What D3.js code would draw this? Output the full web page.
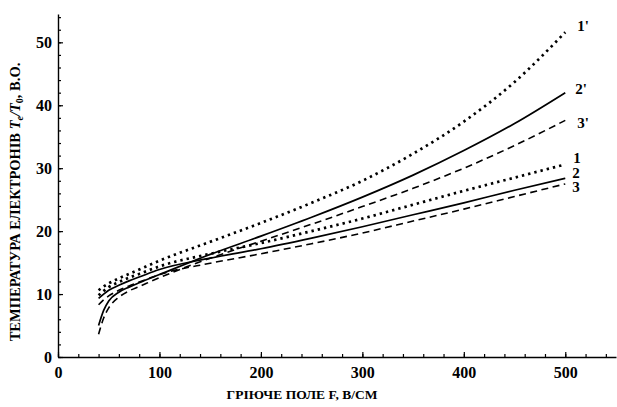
<!DOCTYPE html>
<html>
<head>
<meta charset="utf-8">
<script src="https://cdn.jsdelivr.net/npm/d3@7"></script>
<style>
  body { margin: 0; background: #fff; }
  svg { display: block; }
  text { font-family: "Liberation Serif", "DejaVu Serif", serif; }
</style>
</head>
<body>
<div id="chart"></div>
<script>
// field values, V/cm
var field = [40, 45, 50, 60, 70, 80, 100, 150, 200, 250, 300, 350, 400, 450, 500];

// electron temperature Te/T0 for each curve
var curve1p = [10.6, 11.2, 11.7, 12.5, 13.2, 13.9, 15.3, 18.3, 21.3, 24.5, 28.0, 32.3, 37.4, 43.7, 51.6];
var curve2p = [5.0, 7.4, 8.9, 10.3, 11.1, 11.8, 13.1, 16.3, 19.2, 22.2, 25.4, 28.9, 32.8, 37.1, 42.0];
var curve3p = [3.6, 6.2, 7.8, 9.5, 10.5, 11.2, 12.6, 15.7, 18.4, 21.1, 23.9, 26.8, 30.0, 33.6, 37.6];
var curve1 = [9.8, 10.5, 11.1, 11.9, 12.6, 13.2, 14.4, 16.4, 18.1, 20.0, 22.0, 24.2, 26.4, 28.5, 30.6];
var curve2 = [9.3, 10.0, 10.6, 11.4, 12.1, 12.7, 13.9, 15.7, 17.2, 18.9, 20.7, 22.6, 24.5, 26.5, 28.4];
var curve3 = [8.3, 9.1, 9.7, 10.6, 11.3, 11.9, 13.1, 14.9, 16.4, 18.0, 19.7, 21.6, 23.5, 25.5, 27.5];

var curveNames = ["1'", "2'", "3'", "1", "2", "3"];
var curveKinds = ["dot", "solid", "dash", "dot", "solid", "dash"];

var xMajor = [0, 100, 200, 300, 400, 500];
var yMajor = [0, 10, 20, 30, 40, 50];

draw();

function draw() {
  var width = 617, height = 407;
  var margin = {top: 14, right: 1, bottom: 50, left: 58};

  var svg = d3.select("#chart").append("svg")
      .attr("width", width)
      .attr("height", height);

  var x = d3.scaleLinear().domain([0, 550]).range([margin.left, width - margin.right]);
  var y = d3.scaleLinear().domain([0, 54.5]).range([height - margin.bottom, margin.top]);

  // minor ticks first, then major ticks with labels
  svg.append("g")
      .attr("transform", "translate(0," + y(0) + ")")
      .call(d3.axisBottom(x).tickValues(d3.range(0, 551, 20)).tickSize(-3).tickFormat(""))
      .call(function(g) { g.select(".domain").remove(); });
  svg.append("g")
      .attr("class", "xaxis")
      .attr("transform", "translate(0," + y(0) + ")")
      .call(d3.axisBottom(x).tickValues(xMajor).tickSizeInner(-5).tickSizeOuter(0).tickPadding(8));

  svg.append("g")
      .attr("transform", "translate(" + x(0) + ",0)")
      .call(d3.axisLeft(y).tickValues(d3.range(0, 55, 2)).tickSize(-3).tickFormat(""))
      .call(function(g) { g.select(".domain").remove(); });
  svg.append("g")
      .attr("class", "yaxis")
      .attr("transform", "translate(" + x(0) + ",0)")
      .call(d3.axisLeft(y).tickValues(yMajor).tickSizeInner(-5).tickSizeOuter(0).tickPadding(6));

  svg.selectAll(".tick line").attr("stroke", "#000").attr("stroke-width", 1.2);
  svg.selectAll(".domain").attr("stroke", "#000").attr("stroke-width", 1.4);
  svg.selectAll(".xaxis .tick text, .yaxis .tick text")
      .style("font-family", "Liberation Serif, serif")
      .style("font-size", "16px")
      .style("font-weight", "bold")
      .attr("fill", "#000");
  svg.selectAll(".xaxis .tick text").attr("dy", "0.8em");
  svg.selectAll(".yaxis .tick text").attr("dy", "0.35em");

  // curves
  var series = [curve1p, curve2p, curve3p, curve1, curve2, curve3];
  var line = d3.line()
      .x(function(d) { return x(d[0]); })
      .y(function(d) { return y(d[1]); })
      .curve(d3.curveMonotoneX);

  var styles = {
    dot: {w: 2.7, dash: "2.4,4"},
    solid: {w: 1.7, dash: null},
    dash: {w: 1.6, dash: "7,4.5"}
  };

  series.forEach(function(vals, i) {
    var pts = field.map(function(f, j) { return [f, vals[j]]; });
    var st = styles[curveKinds[i]];
    svg.append("path")
        .datum(pts)
        .attr("d", line)
        .attr("fill", "none")
        .attr("stroke", "#000")
        .attr("stroke-width", st.w)
        .attr("stroke-dasharray", st.dash);
  });

  // curve labels next to the line ends
  var labelDx = [12, 10, 12, 8, 7, 7];
  var labelDy = [-7, -4, 2, -7, -6, 3];
  series.forEach(function(vals, i) {
    svg.append("text")
        .attr("x", x(field[field.length - 1]) + labelDx[i])
        .attr("y", y(vals[vals.length - 1]) + labelDy[i])
        .attr("dy", "0.35em")
        .style("font-size", "15px")
        .style("font-weight", "bold")
        .text(curveNames[i]);
  });

  // axis titles
  svg.append("text")
      .attr("x", 302)
      .attr("y", 399)
      .attr("text-anchor", "middle")
      .style("font-size", "13.5px")
      .style("font-weight", "bold")
      .text("ГРІЮЧЕ ПОЛЕ F, В/СМ");

  var yt = svg.append("text")
      .attr("transform", "translate(20," + 202 + ") rotate(-90)")
      .attr("text-anchor", "middle")
      .style("font-size", "14.5px")
      .style("font-weight", "bold");
  yt.append("tspan").text("ТЕМПЕРАТУРА  ЕЛЕКТРОНІВ ");
  yt.append("tspan").style("font-style", "italic").text("T");
  yt.append("tspan").attr("dy", 3).style("font-size", "10px").style("font-style", "italic").text("e");
  yt.append("tspan").attr("dy", -3).style("font-style", "italic").text("/T");
  yt.append("tspan").attr("dy", 3).style("font-size", "10px").text("0");
  yt.append("tspan").attr("dy", -3).text(", В.О.");
}
</script>
</body>
</html>
